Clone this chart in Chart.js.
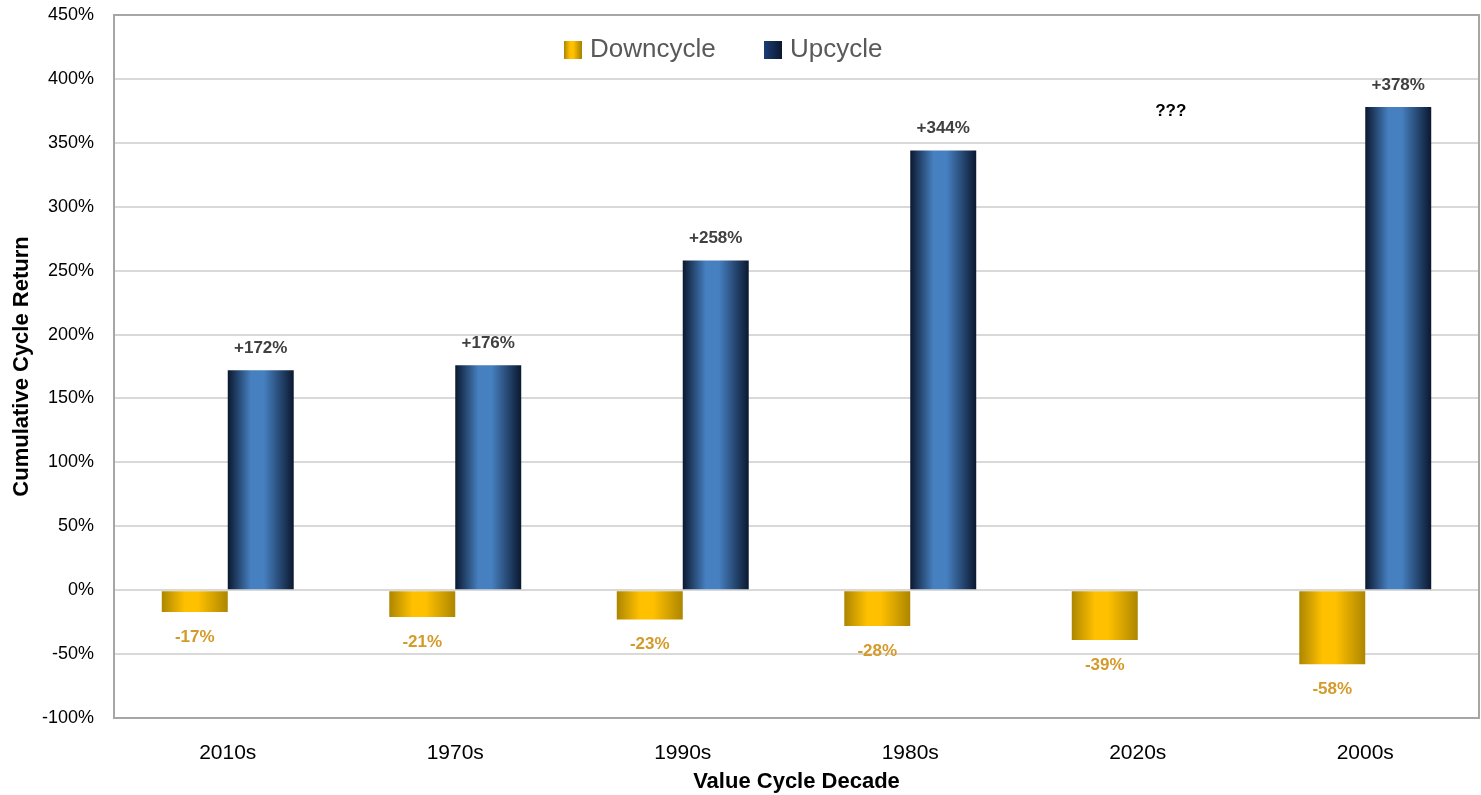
<!DOCTYPE html>
<html>
<head>
<meta charset="utf-8">
<script src="https://cdn.jsdelivr.net/npm/chart.js@4/dist/chart.umd.min.js"></script>
<style>
  html, body { margin: 0; padding: 0; background: #fff; }
  #wrap { width: 1481px; height: 795px; }
</style>
</head>
<body>
<div id="wrap"><canvas id="cycleChart" width="1481" height="795"></canvas></div>
<script>
// chart data
const decades = ['2010s', '1970s', '1990s', '1980s', '2020s', '2000s'];
const downcycle = [-17, -21, -23, -28, -39, -58];
const upcycle = [172, 176, 258, 344, null, 378];
const unknownLabel = '???';
const unknownAt = 375;   // value level where the "???" sits
const yTicks = [-100, -50, 0, 50, 100, 150, 200, 250, 300, 350, 400, 450];

const SANS = "'Liberation Sans', Arial, sans-serif";

function barGradient(ctx, x0, x1, edge, mid) {
    const g = ctx.createLinearGradient(x0, 0, x1, 0);
    g.addColorStop(0, edge);
    g.addColorStop(0.35, mid);
    g.addColorStop(0.55, mid);
    g.addColorStop(1, edge);
    return g;
}

const gold = { edge: '#ad8600', mid: '#ffc000' };
const navy = { edge: '#0b1830', mid: '#4680c0' };

// give every bar its own horizontal gradient before drawing
const gradientBars = {
    id: 'gradientBars',
    beforeDatasetsDraw(chart) {
        const ctx = chart.ctx;
        chart.data.datasets.forEach((ds, di) => {
            const pal = di === 0 ? gold : navy;
            chart.getDatasetMeta(di).data.forEach(bar => {
                const x0 = bar.x - bar.width / 2;
                const x1 = bar.x + bar.width / 2;
                bar.options = Object.assign({}, bar.options, {
                    backgroundColor: barGradient(ctx, x0, x1, pal.edge, pal.mid)
                });
            });
        });
    }
};

// value labels, plot frame, legend
const extras = {
    id: 'extras',
    afterDatasetsDraw(chart) {
        const ctx = chart.ctx;
        const y = chart.scales.y;
        ctx.save();
        ctx.textAlign = 'center';
        ctx.textBaseline = 'middle';

        ctx.font = "bold 17px " + SANS;
        ctx.fillStyle = '#d49a2a';
        chart.getDatasetMeta(0).data.forEach((bar, i) => {
            ctx.fillText(downcycle[i] + '%', bar.x, bar.y + 25);
        });

        chart.getDatasetMeta(1).data.forEach((bar, i) => {
            if (upcycle[i] == null) {
                ctx.fillStyle = '#000';
                ctx.fillText(unknownLabel, bar.x, y.getPixelForValue(unknownAt));
            } else {
                ctx.fillStyle = '#404040';
                ctx.fillText('+' + upcycle[i] + '%', bar.x, bar.y - 22);
            }
        });

        // frame
        const a = chart.chartArea;
        ctx.strokeStyle = '#a6a6a6';
        ctx.lineWidth = 2;
        ctx.strokeRect(a.left, a.top, a.right - a.left, a.bottom - a.top);

        // legend
        ctx.font = "26px " + SANS;
        ctx.textAlign = 'left';
        const ly = 49;
        const items = [
            { text: chart.data.datasets[0].label, x: 564 },
            { text: chart.data.datasets[1].label, x: 764 }
        ];
        items.forEach((it, k) => {
            if (k === 0) {
                ctx.fillStyle = barGradient(ctx, it.x, it.x + 17, gold.edge, gold.mid);
            } else {
                const g = ctx.createLinearGradient(it.x, 0, it.x + 18, 0);
                g.addColorStop(0, '#1a3d75');
                g.addColorStop(1, '#0b1830');
                ctx.fillStyle = g;
            }
            ctx.fillRect(it.x, ly - 8, 18, 18);
            ctx.fillStyle = '#595959';
            ctx.fillText(it.text, it.x + 26, ly + 1);
        });
        ctx.restore();
    }
};

new Chart(document.getElementById('cycleChart'), {
    type: 'bar',
    data: {
        labels: decades,
        datasets: [
            { label: 'Downcycle', data: downcycle, backgroundColor: gold.mid },
            { label: 'Upcycle', data: upcycle, backgroundColor: navy.mid }
        ]
    },
    options: {
        responsive: false,
        animation: false,
        layout: { padding: { top: 0, right: 2, left: 0, bottom: 0 } },
        datasets: {
            bar: { categoryPercentage: 0.58, barPercentage: 1.0, borderWidth: 0 }
        },
        plugins: {
            legend: { display: false },
            tooltip: { enabled: false }
        },
        scales: {
            x: {
                grid: { display: false, drawTicks: false },
                border: { display: false },
                ticks: { color: '#000', font: { family: SANS, size: 21 }, padding: 23 },
                title: {
                    display: true, text: 'Value Cycle Decade', color: '#000',
                    font: { family: SANS, size: 22, weight: 'bold' },
                    padding: { top: 0, bottom: 0 }
                },
                afterFit(scale) { scale.height = 77; }
            },
            y: {
                min: -100, max: 450,
                afterBuildTicks(scale) { scale.ticks = yTicks.map(v => ({ value: v })); },
                grid: { color: '#d9d9d9', lineWidth: 2, drawTicks: false },
                border: { display: false },
                ticks: {
                    color: '#000', font: { family: SANS, size: 18 }, padding: 20,
                    callback: v => v + '%'
                },
                title: {
                    display: true, text: 'Cumulative Cycle Return', color: '#000',
                    font: { family: SANS, size: 22, weight: 'bold' },
                    padding: { top: 9, bottom: 0 }
                },
                afterFit(scale) {
                    scale.width = 114;
                    scale.paddingTop = 15;
                    scale.paddingBottom = 0;
                }
            }
        }
    },
    plugins: [gradientBars, extras]
});
</script>
</body>
</html>
